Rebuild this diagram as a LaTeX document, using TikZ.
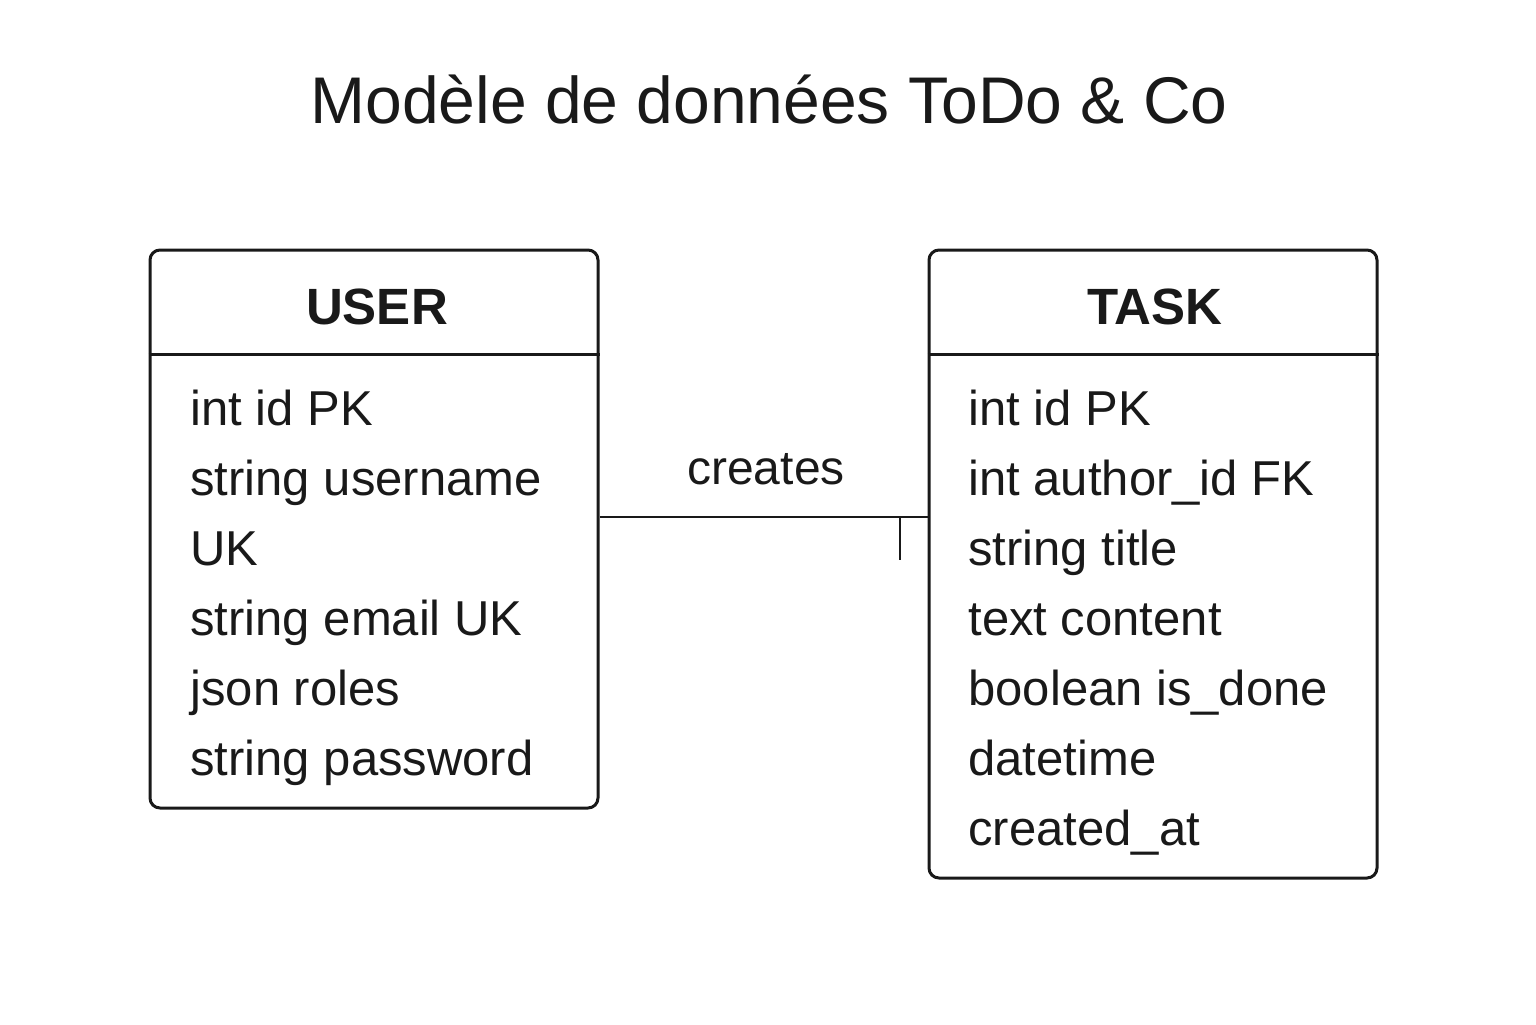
\documentclass[tikz,border=0pt]{standalone}
\usepackage{fontspec}
\setmainfont{Liberation Sans}
\begin{document}
\begin{tikzpicture}[x=0.5pt,y=-0.5pt,
  entity/.style={draw=black!90, line width=1.5pt, rounded corners=5pt, inner sep=0pt},
  hdr/.style={font=\fontsize{25.5}{30}\selectfont\bfseries, text=black!90, inner sep=0pt},
  fld/.style={font=\fontsize{24.5}{28}\selectfont, text=black!90, anchor=base west, inner sep=0pt},
  rel/.style={line width=1.4pt, draw=black!90}]
\useasboundingbox (0,0) rectangle (1536,1024);
\node[font=\fontsize{33}{38}\selectfont, text=black!90, anchor=base, inner sep=0pt] (title) at (769,123) {Modèle de données ToDo \& Co};

% USER
\node[entity, minimum width=224pt, minimum height=279pt] (user) at (374,529) {};
\draw[line width=1.5pt, draw=black!90] (user.west |- 0,354) -- (user.east |- 0,354);
\node[hdr] (usert) at (377,307) {USER};
\node[fld] (u1) at (190,425) {int id PK};
\node[fld] (u2) at (190,495) {string username};
\node[fld] (u3) at (190,565) {UK};
\node[fld] (u4) at (190,635) {string email UK};
\node[fld] (u5) at (190,705) {json roles};
\node[fld] (u6) at (190,775) {string password};

% TASK
\node[entity, minimum width=224pt, minimum height=314pt] (task) at (1153,564) {};
\draw[line width=1.5pt, draw=black!90] (task.west |- 0,354) -- (task.east |- 0,354);
\node[hdr] (taskt) at (1155,307) {TASK};
\node[fld] (t1) at (968,425) {int id PK};
\node[fld] (t2) at (968,495) {int author\_id FK};
\node[fld] (t3) at (968,565) {string title};
\node[fld] (t4) at (968,635) {text content};
\node[fld] (t5) at (968,705) {boolean is\_done};
\node[fld] (t6) at (968,775) {datetime};
\node[fld] (t7) at (968,845) {created\_at};

% relation
\coordinate (rl) at (0,517);
\coordinate (tk) at (900,560);
\draw[rel] (user.east |- rl) -- (task.west |- rl);
\draw[rel] (tk |- rl) -- (tk);
\node[font=\fontsize{24}{28}\selectfont, text=black!90, anchor=base, inner sep=0pt] (lbl) at (766,484) {creates};
\end{tikzpicture}
\end{document}
